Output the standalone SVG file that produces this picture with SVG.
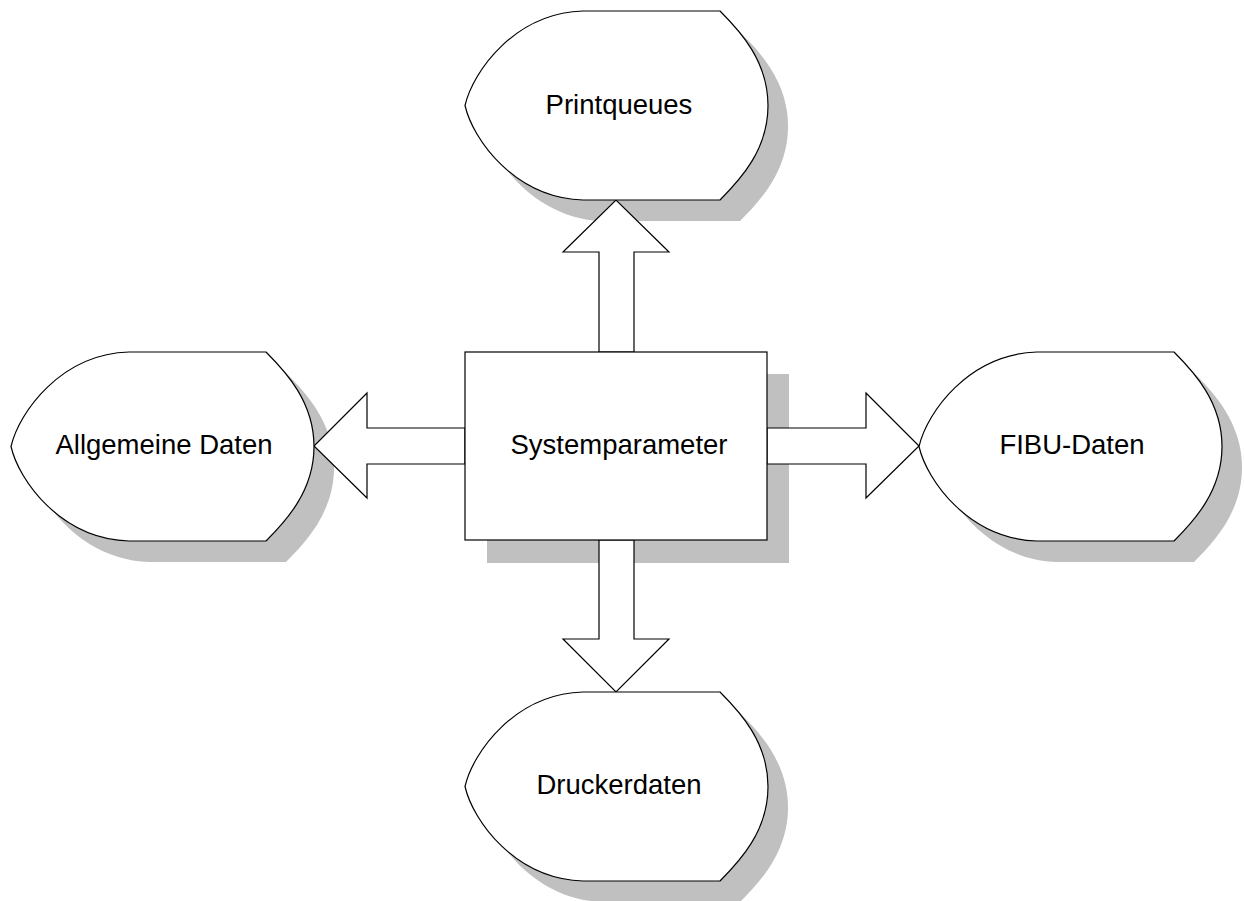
<svg xmlns="http://www.w3.org/2000/svg" xmlns:xlink="http://www.w3.org/1999/xlink" width="1244" height="901" viewBox="0 0 1244 901">
  <style>
    .shape { fill: #ffffff; stroke: #000000; stroke-width: 1.2; stroke-linejoin: miter; }
    .shadow { fill: #c0c0c0; stroke: none; }
    .arrow { fill: #ffffff; stroke: #000000; stroke-width: 1.2; stroke-linejoin: miter; }
    .label { font-family: "Liberation Sans", Arial, sans-serif; font-size: 27.5px; fill: #000000; text-anchor: middle; }
  </style>
  <defs>
    <path id="store" d="M118,0 L255,0 C275,20 303,50 303,94.5 C303,139 275,169 255,189 L118,189 C50,187 8,129 0,94.5 C8,60 50,2 118,0 Z"/>
  </defs>
  <rect width="1244" height="901" fill="#ffffff"/>

  <g id="shadows">
    <use xlink:href="#store" href="#store" class="shadow" transform="translate(485,32)"/>
    <use xlink:href="#store" href="#store" class="shadow" transform="translate(31,373)"/>
    <use xlink:href="#store" href="#store" class="shadow" transform="translate(939,373)"/>
    <use xlink:href="#store" href="#store" class="shadow" transform="translate(485,713)"/>
    <rect class="shadow" x="487" y="374" width="302" height="189"/>
  </g>

  <g id="connectors">
    <polygon class="arrow" points="599,352 599,252 563,252 616,200 669,252 634,252 634,352"/>
    <polygon class="arrow" points="599,540 599,639 563,639 616,692 669,639 634,639 634,540"/>
    <polygon class="arrow" points="465,428 367,428 367,393 314,446 367,498 367,464 465,464"/>
    <polygon class="arrow" points="767,428 866,428 866,393 919,446 866,498 866,464 767,464"/>
  </g>

  <g id="node-systemparameter">
    <rect class="shape" x="465" y="352" width="302" height="188"/>
    <text class="label" x="619" y="454">Systemparameter</text>
  </g>

  <g id="node-printqueues">
    <use xlink:href="#store" href="#store" class="shape" transform="translate(465,11)"/>
    <text class="label" x="619" y="114">Printqueues</text>
  </g>

  <g id="node-allgemeine-daten">
    <use xlink:href="#store" href="#store" class="shape" transform="translate(11,352)"/>
    <text class="label" x="164" y="454">Allgemeine Daten</text>
  </g>

  <g id="node-fibu-daten">
    <use xlink:href="#store" href="#store" class="shape" transform="translate(919,352)"/>
    <text class="label" x="1072" y="454">FIBU-Daten</text>
  </g>

  <g id="node-druckerdaten">
    <use xlink:href="#store" href="#store" class="shape" transform="translate(465,692)"/>
    <text class="label" x="619" y="794">Druckerdaten</text>
  </g>
</svg>
